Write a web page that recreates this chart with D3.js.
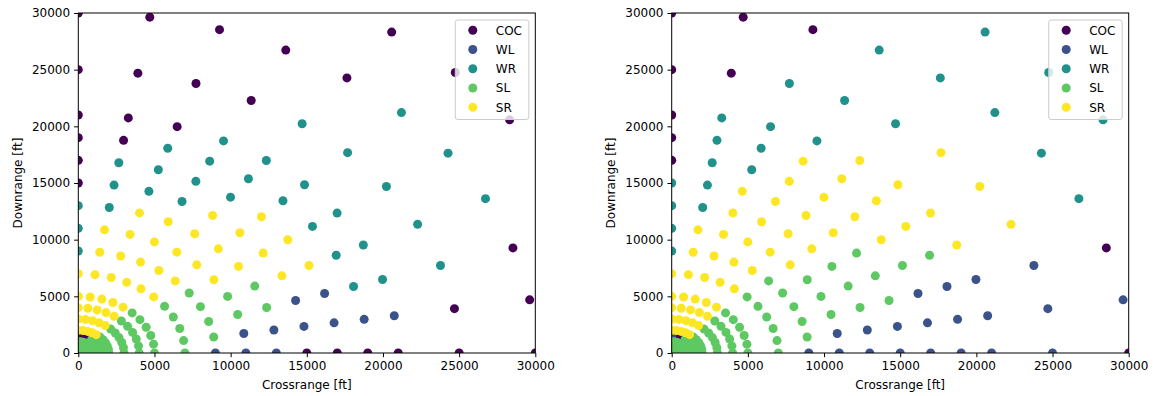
<!DOCTYPE html>
<html>
<head>
<meta charset="utf-8">
<script src="https://cdn.jsdelivr.net/npm/d3@7"></script>
<style>
  body { margin: 0; background: #fff; }
  text { font-family: "DejaVu Sans", sans-serif; }
</style>
</head>
<body>
<svg id="chart" width="1153" height="396"></svg>
<script>
// polar grid: radius (ft) x bearing (deg from crossrange axis)
const classes = ['COC', 'WL', 'WR', 'SL', 'SR'];
const colors = ['#440154', '#3b528b', '#21918c', '#5ec962', '#fde725'];
const angles = [0, 9, 18, 27, 36, 45, 54, 63, 72, 81, 90];
const radii = [0, 25, 50, 75, 100, 150, 200, 300, 400, 500, 510, 750, 1000,
  1500, 2000, 3000, 4000, 5000, 7000, 9000, 11000, 13000, 15000, 17000,
  19000, 21000, 25000, 30000, 35000];
const ticks = [0, 5000, 10000, 15000, 20000, 25000, 30000];

// one row per radius, one label per angle ('-' = not shown)
const leftLabels = [
  'SL SL SL SL SL SL SL SL SL SL SL', 'SL SL SL SL SL SL SL SL SL SL SL',
  'SL SL SL SL SL SL SL SL SL SL SL', 'SL SL SL SL SL SL SL SL SL SL SL',
  'SL SL SL SL SL SL SL SL SL SL SL', 'SL SL SL SL SL SL SL SL SL SL SL',
  'SL SL SL SL SL SL SL SL SL SL SL', 'SL SL SL SL SL SL SL SL SL SL SL',
  'SL SL SL SL SL SL SL SL SL SL SL', 'SL SL SL SL SL SL SL SL SL SL SL',
  'SL SL SL SL SL SL SL SL SL SL SL', 'SL SL SL SL SL SL SL SL SL SL SL',
  'SL SL SL SL SL SL SL SL SL SL SL',
  'SL SL SL SL SL SL SL COC COC COC COC',
  'SL SL SL SL SL SL SR SR SR SR SR',
  'SL SL SL SL SL SL SR SR SR SR SR',
  'SL SL SL SL SL SL SR SR SR SR SR',
  'SL SL SL SL SL SL SR SR SR SR SR',
  'SL SL SL SL SL SR SR SR SR SR SR',
  'WL SL SL SL SL SR SR SR SR SR WR',
  'WL WL SL SL SR SR SR SR SR SR WR',
  'WL WL SL SL SR SR SR SR SR WR WR',
  'COC WL WL SR SR SR SR WR WR WR COC',
  'COC WL WL SR SR SR WR WR WR WR COC',
  'COC WL WR WR WR WR WR WR WR COC COC',
  'COC WL WR WR WR WR WR WR COC COC COC',
  'COC COC WR WR WR WR WR COC COC COC COC',
  'COC COC COC WR WR WR COC COC COC COC COC',
  '- - - - COC COC COC - - - -'
];

const rightLabels = [
  'SL SL SL SL SL SL SL SL SL SL SL', 'SL SL SL SL SL SL SL SL SL SL SL',
  'SL SL SL SL SL SL SL SL SL SL SL', 'SL SL SL SL SL SL SL SL SL SL SL',
  'SL SL SL SL SL SL SL SL SL SL SL', 'SL SL SL SL SL SL SL SL SL SL SL',
  'SL SL SL SL SL SL SL SL SL SL SL', 'SL SL SL SL SL SL SL SL SL SL SL',
  'SL SL SL SL SL SL SL SL SL SL SL', 'SL SL SL SL SL SL SL SL SL SL SL',
  'SL SL SL SL SL SL SL SL SL SL SL', 'SL SL SL SL SL SL SL SL SL SL SL',
  'SL SL SL SL SL SL SL SL SL SL SL',
  'SL SL SL SL SL SL SL COC COC COC WL',
  'SL SL SL SL SL SL SR SR SR SR SR',
  'SL SL SL SL SL SL SR SR SR SR SR',
  'SL SL SL SL SL SL SR SR SR SR SR',
  'SL SL SL SL SL SL SR SR SR SR SR',
  'SL SL SL SL SL SL SR SR SR SR SR',
  'WL SL SL SL SL SL SR SR SR SR WR',
  'WL WL SL SL SL SR SR SR SR SR WR',
  'WL WL SL SL SL SR SR SR SR WR WR',
  'WL WL SL SL SL SR SR SR SR WR WR',
  'WL WL WL SL SR SR SR SR WR WR COC',
  'WL WL WL SL SR SR SR SR WR WR COC',
  'WL WL WL SR SR SR SR WR WR WR COC',
  'WL WL WL SR SR SR WR WR WR COC COC',
  'COC WL COC WR WR WR WR WR COC COC COC',
  '- - - - WR WR WR - - - -'
];

const svg = d3.select('#chart');
const width = 457, height = 340, marginTop = 13;
const fontSize = 12;

function toPoints(labels) {
  const pts = [];
  radii.forEach((r, i) => {
    labels[i].split(' ').forEach((lab, j) => {
      if (lab === '-') return;
      const a = angles[j] * Math.PI / 180;
      pts.push({ x: r * Math.cos(a), y: r * Math.sin(a), c: classes.indexOf(lab) });
    });
  });
  // matplotlib draws one scatter per class, in legend order
  return pts.sort((p, q) => p.c - q.c);
}

function drawPanel(left, labels, id) {
  const x = d3.scaleLinear().domain([0, 30000]).range([0, width]);
  const y = d3.scaleLinear().domain([0, 30000]).range([height, 0]);

  const g = svg.append('g').attr('transform', 'translate(' + left + ',' + marginTop + ')');

  g.append('clipPath').attr('id', id)
    .append('rect').attr('width', width).attr('height', height);

  g.append('g').attr('clip-path', 'url(#' + id + ')')
    .selectAll('circle')
    .data(toPoints(labels))
    .enter().append('circle')
    .attr('cx', d => x(d.x))
    .attr('cy', d => y(d.y))
    .attr('r', 4.5)
    .attr('fill', d => colors[d.c]);

  const ax = g.append('g')
    .attr('transform', 'translate(0,' + height + ')')
    .call(d3.axisBottom(x).tickValues(ticks).tickFormat(d3.format('d'))
      .tickSize(4.2).tickPadding(4).tickSizeOuter(0));
  const ay = g.append('g')
    .call(d3.axisLeft(y).tickValues(ticks).tickFormat(d3.format('d'))
      .tickSize(4.2).tickPadding(4).tickSizeOuter(0));
  [ax, ay].forEach(a => {
    a.select('.domain').remove();
    a.selectAll('.tick line').attr('stroke', '#000').attr('stroke-width', 1);
    a.selectAll('.tick text').attr('font-size', fontSize).attr('fill', '#000')
      .attr('font-family', '"DejaVu Sans", sans-serif');
  });

  g.append('rect')
    .attr('width', width).attr('height', height)
    .attr('fill', 'none').attr('stroke', '#000').attr('stroke-width', 1);

  g.append('text')
    .attr('x', width / 2).attr('y', 372).attr('dy', '0.35em')
    .attr('text-anchor', 'middle').attr('font-size', fontSize)
    .text('Crossrange [ft]');
  g.append('text')
    .attr('transform', 'translate(-61,' + (height / 2) + ') rotate(-90)')
    .attr('dy', '0.35em')
    .attr('text-anchor', 'middle').attr('font-size', fontSize)
    .text('Downrange [ft]');

  // legend
  const lg = g.append('g').attr('transform', 'translate(377,7)');
  lg.append('rect')
    .attr('width', 73.5).attr('height', 99.5).attr('rx', 2.5)
    .attr('fill', '#fff').attr('fill-opacity', 0.8)
    .attr('stroke', '#cccccc').attr('stroke-width', 1);
  classes.forEach((c, i) => {
    const row = lg.append('g').attr('transform', 'translate(0,' + (10.3 + i * 19.25) + ')');
    row.append('circle').attr('cx', 17.5).attr('cy', 0).attr('r', 4.5).attr('fill', colors[i]);
    row.append('text').attr('x', 40.5).attr('y', 0).attr('dy', '0.36em')
      .attr('font-size', fontSize).text(c);
  });
}

drawPanel(78.3, leftLabels, 'clipL');
drawPanel(671.7, rightLabels, 'clipR');
</script>
</body>
</html>
